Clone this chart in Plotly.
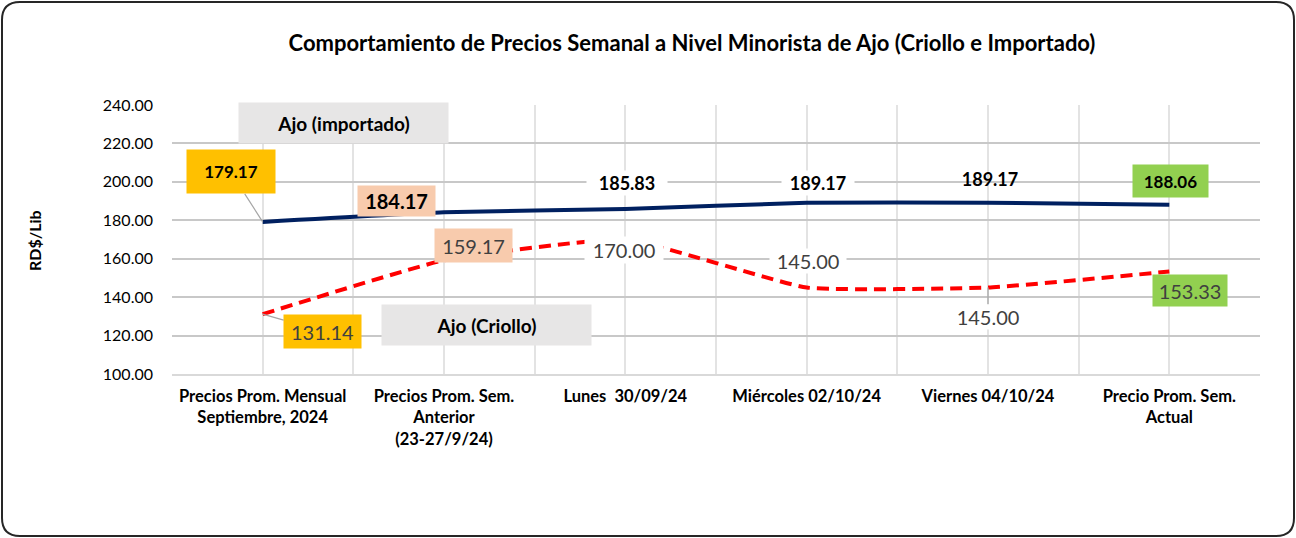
import plotly.graph_objects as go

# data
categories = [
    "Precios Prom. Mensual<br>Septiembre, 2024",
    "Precios Prom. Sem.<br>Anterior<br>(23-27/9/24)",
    "Lunes  30/09/24",
    "Miércoles 02/10/24",
    "Viernes 04/10/24",
    "Precio Prom. Sem.<br>Actual",
]
importado = [179.17, 184.17, 185.83, 189.17, 189.17, 188.06]
criollo = [131.14, 159.17, 170.00, 145.00, 145.00, 153.33]
y_ticks = [100, 120, 140, 160, 180, 200, 220, 240]

W, H = 1296, 538
L, R, T, B = 172, 1260, 105, 374
FONT = "Lato"
NAVY = "#002060"
RED = "#FF0000"
YELLOW = "#FFC000"
PEACH = "#F8CBAD"
GREEN = "#92D050"
GRAY_BOX = "#E7E6E6"
DARK_TXT = "#404040"


def px(x, y):
    """pixel -> paper coords"""
    return (x - L) / (R - L), (B - y) / (B - T)


x_idx = list(range(len(categories)))

fig = go.Figure()
fig.add_trace(go.Scatter(
    x=x_idx, y=importado, mode="lines",
    line=dict(color=NAVY, width=4, shape="spline", smoothing=0.5),
    name="Ajo (importado)", hoverinfo="skip",
))
fig.add_trace(go.Scatter(
    x=x_idx, y=criollo, mode="lines",
    line=dict(color=RED, width=4, shape="spline", smoothing=0.4, dash="12px,7px"),
    name="Ajo (Criollo)", hoverinfo="skip",
))

# label styles per point: (dx, dy, bg, box w, box h, font size, arrow)
imp_style = [
    (-32, -50, YELLOW, 88, 43, 17, True),
    (-48, -11, PEACH, 77, 30, 20, False),
    (2, -26, "white", 80, 24, 18, False),
    (11, -20, "white", 72, 24, 18, False),
    (2, -24, "rgba(0,0,0,0)", 62, 20, 18, False),
    (1, -24, GREEN, 75, 32, 17, False),
]
cri_style = [
    (60, 17, YELLOW, 77, 33, 20, True),
    (29, -15, PEACH, 77, 33, 20, False),
    (-1, 10, "white", 78, 26, 20, False),
    (1, -27, "white", 76, 24, 20, False),
    (0, 29, "white", 70, 24, 20, True),
    (21, 19, GREEN, 74, 31, 20, False),
]

annotations = []
for vals, styles, fcolor, bold in [
    (importado, imp_style, "black", True),
    (criollo, cri_style, DARK_TXT, False),
]:
    for i, (v, st) in enumerate(zip(vals, styles)):
        dx, dy, bg, bw, bh, size, arrow = st
        txt = f"{v:.2f}"
        if bold:
            txt = f"<b>{txt}</b>"
        a = dict(
            x=i, y=v, xref="x", yref="y", text=txt,
            font=dict(family=FONT, size=size, color=fcolor),
            bgcolor=bg, width=bw, height=bh, borderpad=0, align="center", valign="middle",
        )
        if arrow:
            a.update(showarrow=True, arrowhead=0, arrowwidth=1.2, arrowcolor="#A6A6A6",
                     ax=dx, ay=dy, standoff=0)
        else:
            a.update(showarrow=False, xshift=dx, yshift=-dy)
        annotations.append(a)

# series name boxes
for text, cx, cy in [("Ajo (importado)", 343, 123), ("Ajo (Criollo)", 486, 325)]:
    xp, yp = px(cx, cy)
    annotations.append(dict(
        x=xp, y=yp, xref="paper", yref="paper", xanchor="center", yanchor="middle",
        text=f"<b>{text}</b>", showarrow=False,
        font=dict(family=FONT, size=19, color="black"), bgcolor=GRAY_BOX,
        width=209, height=40, borderpad=0,
    ))

# y axis title
xp, yp = px(34, 241)
annotations.append(dict(
    x=xp, y=yp, xref="paper", yref="paper", xanchor="center", yanchor="middle",
    text="<b>RD$/Lib</b>", showarrow=False,
    textangle=-90, font=dict(family=FONT, size=16, color="black"),
))

# rounded outer border
x0, y0, x1, y1, r = 2, 2, 1294, 536, 18
pts = [
    ("M", x0 + r, y0), ("L", x1 - r, y0), ("Q", x1, y0, x1, y0 + r), ("L", x1, y1 - r),
    ("Q", x1, y1, x1 - r, y1), ("L", x0 + r, y1), ("Q", x0, y1, x0, y1 - r),
    ("L", x0, y0 + r), ("Q", x0, y0, x0 + r, y0),
]
path = ""
for p in pts:
    cmd, coords = p[0], p[1:]
    parts = []
    for k in range(0, len(coords), 2):
        a, b = px(coords[k], coords[k + 1])
        parts.append(f"{a:.5f},{b:.5f}")
    path += cmd + " ".join(parts) + " "
path += "Z"

fig.update_layout(
    width=W, height=H,
    margin=dict(l=L, r=W - R, t=T, b=H - B),
    paper_bgcolor="white", plot_bgcolor="white",
    showlegend=False,
    title=dict(
        text="<b>Comportamiento de Precios Semanal a Nivel Minorista de Ajo (Criollo e Importado)</b>",
        x=692 / W, xanchor="center", y=1 - 43 / H, yanchor="middle",
        font=dict(family=FONT, size=22, color="black"),
    ),
    font=dict(family=FONT, color="black"),
    annotations=annotations,
    shapes=[dict(type="path", path=path, xref="paper", yref="paper",
                 line=dict(color="#262626", width=2), layer="above")],
)

half_ticks = [k / 2 for k in range(-1, 2 * len(categories))]
fig.update_xaxes(
    range=[-0.5, len(categories) - 0.5],
    tickmode="array", tickvals=x_idx, ticktext=[f"<b>{c}</b>" for c in categories],
    tickfont=dict(family=FONT, size=16.5, color="black"),
    showgrid=False, zeroline=False, ticks="",
    minor=dict(tickmode="array", tickvals=half_ticks, showgrid=True,
               gridcolor="#E3E3E3", gridwidth=1.5, ticks=""),
    showline=True, linecolor="#D9D9D9", linewidth=2,
    ticklabelstandoff=6,
)
fig.update_yaxes(
    range=[100, 240], tickmode="array", tickvals=y_ticks,
    tickformat=".2f", tickprefix="<b>", ticksuffix="</b>",
    tickfont=dict(family=FONT, size=16, color="black"),
    showgrid=True, gridcolor="#C8C8C8", gridwidth=1.5, zeroline=False,
    ticklabelstandoff=18,
)

fig.write_html("out.html", config={"displayModeBar": False},
               post_script="document.body.style.margin='0';")
